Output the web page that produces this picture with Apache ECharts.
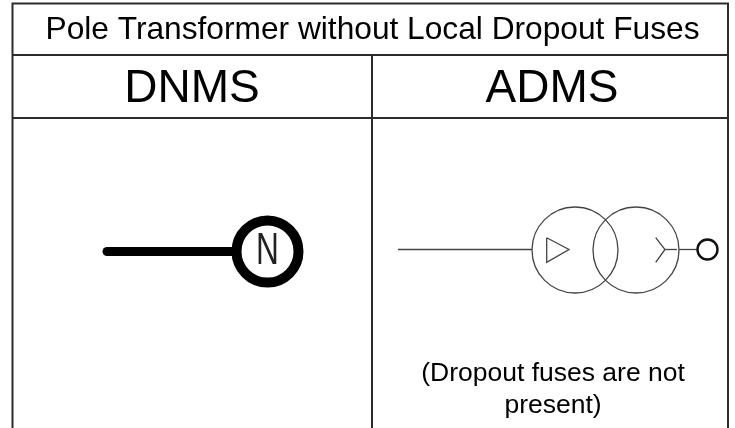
<!DOCTYPE html>
<html>
<head>
<meta charset="utf-8">
<style>html,body{margin:0;padding:0;background:#fff}#main{width:735px;height:428px}</style>
<script src="https://cdn.jsdelivr.net/npm/echarts@6/dist/echarts.min.js"></script>
</head>
<body>
<div id="main"></div>
<script>
// picture is a schematic, so the axes run in picture units
var tableLines = [
  [[12.5, 428], [12.5, 3.5], [728, 3.5], [728, 428]],
  [[12.5, 55], [728, 55]],
  [[12.5, 118], [728, 118]],
  [[372, 55], [372, 428]]
];
var thinWires = [
  [[398, 249.5], [532, 249.5]],
  [[546.7, 237.7], [569, 249.5], [546.7, 262.3], [546.7, 237.7]],
  [[655.7, 237.7], [665, 249.5], [655.7, 262.3]],
  [[665, 249.5], [677, 249.5]],
  [[679, 249.5], [697, 249.5]]
];
var thickWires = [[[107, 251.5], [236, 251.5]]];
var thinCircles = [[575, 250, 43], [636, 250, 43]];
var midCircles = [[707.5, 249.5, 10]];
var thickCircles = [[267.5, 251.5, 31]];
var labels = [
  ['Pole Transformer without Local Dropout Fuses', 372.5, 30.5, 31.7],
  ['DNMS', 192, 89.5, 46],
  ['ADMS', 552, 89.5, 46],
  ['(Dropout fuses are not', 553, 373.5, 26.5],
  ['present)', 553, 405.5, 26.5]
];
var symbolLetter = ['N', 267.5, 252, 44];

function lineSeries(lines, width, color, cap) {
  return {
    type: 'custom',
    silent: true,
    clip: false,
    data: lines.map(function (l, i) { return [i]; }),
    renderItem: function (params, api) {
      var pts = lines[api.value(0)].map(function (p) { return api.coord(p); });
      return {
        type: 'polyline',
        shape: { points: pts },
        style: { fill: null, stroke: color, lineWidth: width, lineCap: cap, lineJoin: 'miter' }
      };
    }
  };
}
function circleSeries(circles, width, color) {
  return {
    type: 'custom',
    silent: true,
    data: circles,
    renderItem: function (params, api) {
      var c = api.coord([api.value(0), api.value(1)]);
      return {
        type: 'circle',
        shape: { cx: c[0], cy: c[1], r: api.size([api.value(2), 0])[0] },
        style: { fill: null, stroke: color, lineWidth: width }
      };
    }
  };
}
var chart = echarts.init(document.getElementById('main'));
chart.setOption({
  animation: false,
  backgroundColor: '#fff',
  grid: { left: 0, right: 0, top: 0, bottom: 0 },
  xAxis: { type: 'value', min: 0, max: 735, show: false },
  yAxis: { type: 'value', min: 0, max: 428, inverse: true, show: false },
  series: [
    lineSeries(tableLines, 2, '#2b2b2b', 'butt'),
    lineSeries(thinWires, 1.3, '#444', 'butt'),
    lineSeries(thickWires, 9, '#000', 'round'),
    circleSeries(thinCircles, 1.3, '#444'),
    circleSeries(midCircles, 2.4, '#111'),
    circleSeries(thickCircles, 10, '#000'),
    {
      type: 'custom',
      silent: true,
      data: labels,
      renderItem: function (params, api) {
        var l = labels[params.dataIndex];
        var c = api.coord([l[1], l[2]]);
        return {
          type: 'text',
          x: c[0], y: c[1],
          style: {
            text: l[0], font: l[3] + 'px "Liberation Sans"', fill: '#000',
            align: 'center', verticalAlign: 'middle'
          }
        };
      }
    },
    {
      type: 'custom',
      silent: true,
      data: [symbolLetter],
      renderItem: function (params, api) {
        var c = api.coord([symbolLetter[1], symbolLetter[2]]);
        return {
          type: 'text',
          x: c[0], y: c[1], scaleX: 0.72,
          style: {
            text: symbolLetter[0], font: symbolLetter[3] + 'px "Liberation Sans"', fill: '#222',
            stroke: '#fff', lineWidth: 1.6,
            align: 'center', verticalAlign: 'middle'
          }
        };
      }
    }
  ]
});
</script>
</body>
</html>
